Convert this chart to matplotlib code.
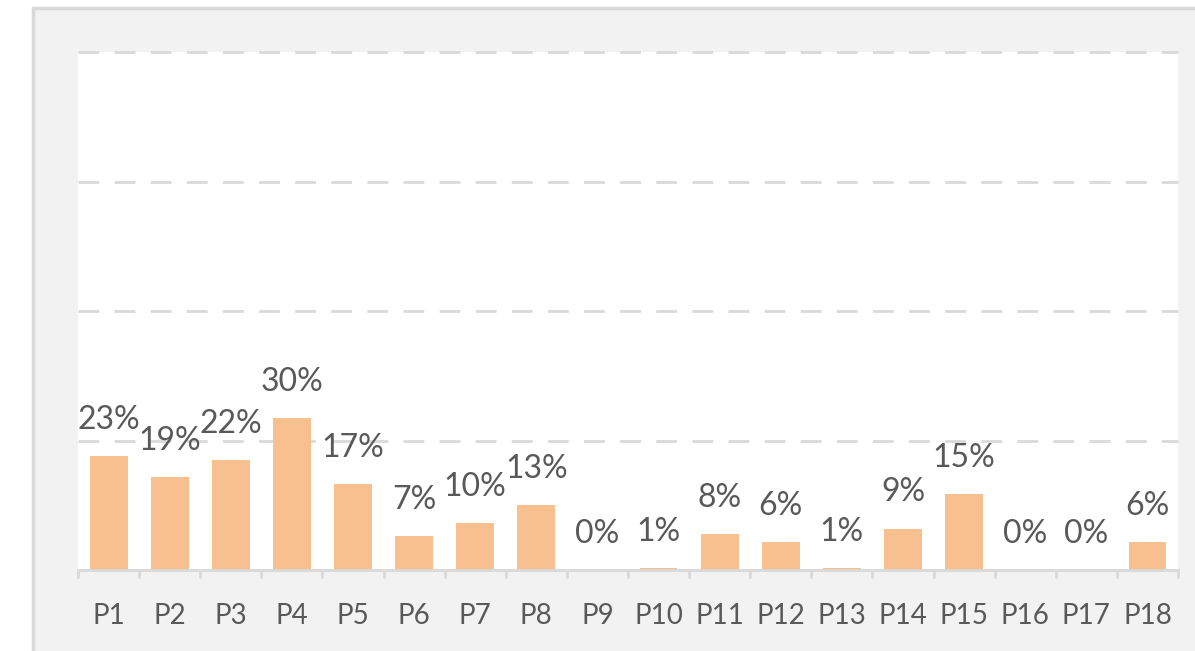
import numpy as np
import matplotlib
matplotlib.use("Agg")
import matplotlib.pyplot as plt
from matplotlib.patches import Rectangle

labels = ["P%d" % i for i in range(1, 19)]
values = [0.220, 0.180, 0.213, 0.293, 0.166, 0.066, 0.091, 0.125, 0.000,
          0.004, 0.069, 0.054, 0.004, 0.080, 0.146, 0.000, 0.000, 0.054]
value_labels = ["23%", "19%", "22%", "30%", "17%", "7%", "10%", "13%", "0%",
                "1%", "8%", "6%", "1%", "9%", "15%", "0%", "0%", "6%"]
grid_levels = [0.25, 0.5, 0.75, 1.0]

plt.rcParams['font.family'] = ['Lato', 'DejaVu Sans']

W, H = 1195, 651
fig = plt.figure(figsize=(W / 100, H / 100), dpi=100)
fig.patch.set_facecolor("white")

# grey chart panel with border (behind the axes)
panel = Rectangle((33 / W, -0.05), 1.1, (651 - 8) / H + 0.05,
                  transform=fig.transFigure, facecolor="#f2f2f2",
                  edgecolor="#d9d9d9", linewidth=2.5, zorder=-10)
fig.patches.append(panel)

ax = fig.add_axes([78 / W, (H - 570) / H, 1100 / W, 518 / H])
ax.set_facecolor("white")
ax.set_zorder(1)

x = np.arange(len(labels))
ax.bar(x, values, width=0.62, color="#F9C08F", zorder=2)

for xi, v, t in zip(x, values, value_labels):
    ax.annotate(t, (xi, v), xytext=(0, 26),
                textcoords="offset points", ha="center", va="center",
                fontsize=23, color="#595959", zorder=3)

for g in grid_levels:
    ax.axhline(g, color="#d9d9d9", linewidth=2, linestyle=(0, (7.5, 5.5)),
               zorder=1, clip_on=False)

ax.set_xlim(-0.5, len(labels) - 0.5)
ax.set_ylim(0, 1.0)
ax.set_yticks([])

for s in ["top", "right", "left"]:
    ax.spines[s].set_visible(False)
ax.spines["bottom"].set_color("#d9d9d9")
ax.spines["bottom"].set_linewidth(2)
ax.spines["bottom"].set_zorder(4)

ax.set_xticks(x)
ax.set_xticklabels(labels, fontsize=20, color="#595959")
ax.tick_params(axis="x", which="major", length=0, pad=24)
ax.set_xticks(np.arange(-0.5, len(labels), 1.0), minor=True)
ax.tick_params(axis="x", which="minor", length=6, width=2, color="#d9d9d9")

fig.savefig("out.png", dpi=100, facecolor=fig.get_facecolor())
